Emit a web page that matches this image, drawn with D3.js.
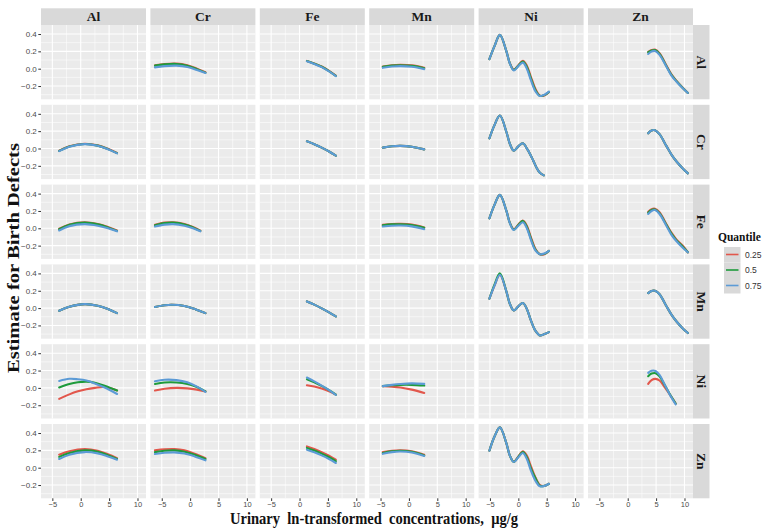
<!DOCTYPE html>
<html><head><meta charset="utf-8">
<script src="https://cdn.jsdelivr.net/npm/d3@7"></script>
<style>body{margin:0;background:#fff}</style>
</head><body><svg id="c" width="767" height="532"></svg>
<script>
const metals = ["Al","Cr","Fe","Mn","Ni","Zn"];
const quantiles = ["0.25","0.5","0.75"];
const qColors = ["#E2574C","#1E9B3B","#5C9BD6"];
const xTicks = [-5,0,5,10];
const yTicks = [-0.2,0,0.2,0.4];
const xLabel = "Urinary  ln-transformed  concentrations,  μg/g";
const yLabel = "Estimate for Birth Defects";

// x grids (urinary ln concentration of the column metal)
const xAl = [-3.8,-2,0.7,3,4.8,6.4];
const xCr = [-6.2,-4.5,-2.4,-0.5,1.2,2.7];
const xCrShort = [-6.2,-4.5,-3,-1,0.5,1.8];
const xFe = [1.3,2.6,3.9,5.2,6.4];
const xMn = [-4.6,-3,-1.5,0.5,2.7];
const xNi = [-5.1,-4.2,-3.25,-2.1,-1.5,-0.8,0,0.8,1.5,2.2,3.0,3.8,4.6,5.4];
const xNiShort = [-5.1,-4.2,-3.25,-2.1,-1.5,-0.8,0,0.8,1.6,2.6,3.2,3.8,4.5];
const xZn = [3.6,4.2,4.8,5.6,6.8,7.7,8.6,9.7,10.6];
const xZnShort = [3.6,4.2,4.9,5.6,6.5,7.4,8.45];

// estimates per row metal: column -> [x, q0.25, q0.5, q0.75]
const rowAl = {
  Cr: [xCr, [0.04,0.055,0.06,0.04,0.0,-0.04], [0.035,0.05,0.055,0.035,-0.005,-0.045], [0.015,0.03,0.035,0.02,-0.015,-0.05]],
  Fe: [xFe, [0.09,0.06,0.025,-0.025,-0.08], [0.088,0.058,0.022,-0.028,-0.082], [0.085,0.055,0.018,-0.032,-0.085]],
  Mn: [xMn, [0.025,0.04,0.045,0.038,0.01], [0.022,0.036,0.04,0.033,0.005], [0.01,0.025,0.03,0.022,-0.005]],
  Ni: [xNi, [0.11,0.26,0.39,0.2,0.065,-0.01,0.04,0.09,0.035,-0.09,-0.23,-0.31,-0.31,-0.27],
            [0.11,0.26,0.39,0.2,0.062,-0.015,0.035,0.082,0.02,-0.11,-0.245,-0.312,-0.305,-0.268],
            [0.11,0.26,0.39,0.2,0.06,-0.02,0.03,0.07,0.0,-0.13,-0.26,-0.315,-0.3,-0.265]],
  Zn: [xZn, [0.195,0.215,0.22,0.18,0.04,-0.065,-0.14,-0.22,-0.28], [0.19,0.21,0.215,0.17,0.032,-0.072,-0.145,-0.222,-0.28], [0.17,0.198,0.205,0.16,0.025,-0.08,-0.15,-0.225,-0.28]]
};
const rowCr = {
  Al: [xAl, [-0.025,0.026,0.055,0.036,-0.004,-0.052], [-0.028,0.023,0.052,0.033,-0.007,-0.054], [-0.03,0.021,0.05,0.031,-0.009,-0.056]],
  Fe: [xFe, [0.083,0.05,0.01,-0.035,-0.083], [0.083,0.05,0.01,-0.035,-0.083], [0.083,0.05,0.01,-0.035,-0.083]],
  Mn: [xMn, [0.01,0.025,0.03,0.02,-0.01], [0.01,0.025,0.03,0.02,-0.01], [0.01,0.025,0.03,0.02,-0.01]],
  Ni: [xNiShort, [0.117,0.27,0.38,0.19,0.055,-0.025,0.025,0.06,-0.01,-0.135,-0.22,-0.28,-0.31],
                 [0.117,0.27,0.38,0.19,0.055,-0.025,0.025,0.06,-0.01,-0.135,-0.22,-0.28,-0.31],
                 [0.117,0.27,0.38,0.19,0.055,-0.025,0.025,0.06,-0.01,-0.135,-0.22,-0.28,-0.31]],
  Zn: [xZn, [0.175,0.208,0.21,0.165,0.03,-0.07,-0.15,-0.23,-0.287], [0.175,0.208,0.21,0.165,0.03,-0.07,-0.15,-0.23,-0.287], [0.175,0.208,0.21,0.165,0.03,-0.07,-0.15,-0.23,-0.287]]
};
const rowFe = {
  Al: [xAl, [-0.005,0.045,0.07,0.05,0.015,-0.025], [-0.01,0.04,0.065,0.045,0.01,-0.03], [-0.025,0.025,0.048,0.03,0.0,-0.035]],
  Cr: [xCrShort, [0.04,0.065,0.07,0.05,0.015,-0.027], [0.035,0.06,0.065,0.045,0.01,-0.03], [0.02,0.042,0.048,0.03,0.0,-0.035]],
  Mn: [xMn, [0.04,0.05,0.052,0.042,0.01], [0.035,0.045,0.047,0.037,0.005], [0.02,0.03,0.032,0.022,-0.01]],
  Ni: [xNi, [0.115,0.27,0.385,0.2,0.065,-0.01,0.045,0.09,0.03,-0.1,-0.235,-0.3,-0.3,-0.26],
            [0.115,0.27,0.385,0.2,0.062,-0.015,0.038,0.085,0.015,-0.115,-0.245,-0.3,-0.295,-0.26],
            [0.115,0.27,0.385,0.2,0.06,-0.02,0.03,0.07,0.0,-0.13,-0.255,-0.3,-0.29,-0.26]],
  Zn: [xZn, [0.19,0.22,0.225,0.185,0.05,-0.05,-0.13,-0.2,-0.277], [0.18,0.212,0.218,0.175,0.04,-0.062,-0.14,-0.212,-0.277], [0.165,0.2,0.21,0.165,0.03,-0.075,-0.15,-0.225,-0.277]]
};
const rowMn = {
  Al: [xAl, [-0.031,0.015,0.046,0.028,-0.01,-0.058], [-0.031,0.015,0.046,0.028,-0.01,-0.058], [-0.031,0.015,0.046,0.028,-0.01,-0.058]],
  Cr: [[-6.2,-4.5,-3.3,-1,1,2.7], [0.012,0.032,0.038,0.025,-0.015,-0.058], [0.012,0.032,0.038,0.025,-0.015,-0.058], [0.012,0.032,0.038,0.025,-0.015,-0.058]],
  Fe: [xFe, [0.077,0.04,-0.003,-0.05,-0.096], [0.077,0.04,-0.003,-0.05,-0.096], [0.077,0.04,-0.003,-0.05,-0.096]],
  Ni: [xNi, [0.108,0.26,0.385,0.19,0.05,-0.027,0.02,0.058,-0.01,-0.14,-0.26,-0.315,-0.3,-0.277],
            [0.108,0.27,0.4,0.19,0.05,-0.027,0.02,0.058,-0.01,-0.14,-0.26,-0.315,-0.3,-0.277],
            [0.108,0.26,0.385,0.19,0.05,-0.027,0.02,0.058,-0.01,-0.14,-0.26,-0.315,-0.3,-0.277]],
  Zn: [xZn, [0.173,0.198,0.2,0.16,0.025,-0.075,-0.155,-0.235,-0.288], [0.173,0.198,0.2,0.16,0.025,-0.075,-0.155,-0.235,-0.288], [0.173,0.198,0.2,0.16,0.025,-0.075,-0.155,-0.235,-0.288]]
};
const rowNi = {
  Al: [[-3.8,-2,-0.5,1,2.5,4.2,6.4], [-0.127,-0.075,-0.04,-0.015,0.0,0.01,-0.03], [0.005,0.045,0.065,0.072,0.06,0.025,-0.03], [0.08,0.105,0.1,0.085,0.05,0.005,-0.07]],
  Cr: [xCr, [-0.03,-0.01,0.0,-0.005,-0.02,-0.04], [0.046,0.062,0.062,0.045,0.01,-0.04], [0.077,0.094,0.09,0.065,0.015,-0.046]],
  Fe: [xFe, [0.03,0.015,-0.008,-0.04,-0.077], [0.1,0.065,0.022,-0.025,-0.077], [0.12,0.075,0.027,-0.025,-0.08]],
  Mn: [xMn, [0.02,0.015,0.005,-0.02,-0.058], [0.02,0.03,0.035,0.035,0.027], [0.02,0.035,0.045,0.052,0.046]],
  Zn: [xZnShort, [0.046,0.09,0.104,0.085,0.01,-0.075,-0.18], [0.135,0.165,0.17,0.135,0.035,-0.07,-0.18], [0.173,0.198,0.195,0.15,0.04,-0.075,-0.19]]
};
const rowZn = {
  Al: [xAl, [0.15,0.19,0.215,0.195,0.155,0.11], [0.125,0.17,0.2,0.185,0.145,0.1], [0.1,0.15,0.18,0.165,0.13,0.092]],
  Cr: [[-6.2,-4.5,-2.8,-1,0.8,2.7], [0.2,0.212,0.215,0.2,0.16,0.11], [0.18,0.195,0.2,0.185,0.148,0.1], [0.158,0.172,0.177,0.163,0.13,0.085]],
  Fe: [xFe, [0.246,0.215,0.18,0.138,0.092], [0.228,0.198,0.162,0.12,0.075], [0.208,0.178,0.142,0.1,0.054]],
  Mn: [xMn, [0.18,0.195,0.2,0.19,0.15], [0.17,0.188,0.195,0.183,0.142], [0.16,0.18,0.186,0.175,0.135]],
  Ni: [xNi, [0.196,0.36,0.465,0.28,0.14,0.07,0.13,0.19,0.14,0.02,-0.11,-0.2,-0.21,-0.185],
            [0.196,0.36,0.465,0.28,0.14,0.067,0.125,0.18,0.12,-0.005,-0.12,-0.208,-0.21,-0.185],
            [0.196,0.36,0.465,0.28,0.14,0.065,0.12,0.17,0.1,-0.03,-0.15,-0.215,-0.21,-0.185]]
};
const rows = [rowAl,rowCr,rowFe,rowMn,rowNi,rowZn];

const svg = d3.select("#c");
svg.append("rect").attr("width",767).attr("height",532).attr("fill","#fff");

const pLeft = 41, pTop = 25, pw = 105, ph = 74.3, gx = 4.4, gy = 5.5;
const stripH = 16.7, stripW = 16.5;
const x = d3.scaleLinear().domain([-7, 11.5]).range([0, pw]);
const y = d3.scaleLinear().domain([-0.353, 0.504]).range([ph, 0]);
const xMinor = [-2.5, 2.5, 7.5];
const yMinor = [-0.3, -0.1, 0.1, 0.3];
const line = d3.line().x(d=>x(d[0])).y(d=>y(d[1])).curve(d3.curveCatmullRom.alpha(0.5));
const fmt = d3.format(".1f");

metals.forEach((rm, ri) => {
  metals.forEach((cm, ci) => {
    const g = svg.append("g").attr("transform",`translate(${pLeft + ci*(pw+gx)},${pTop + ri*(ph+gy)})`);
    g.append("rect").attr("width",pw).attr("height",ph).attr("fill","#EBEBEB");
    g.selectAll(".vmin").data(xMinor).join("line").attr("x1",d=>x(d)).attr("x2",d=>x(d)).attr("y1",0).attr("y2",ph).attr("stroke","#fff").attr("stroke-width",0.55);
    g.selectAll(".hmin").data(yMinor).join("line").attr("y1",d=>y(d)).attr("y2",d=>y(d)).attr("x1",0).attr("x2",pw).attr("stroke","#fff").attr("stroke-width",0.55);
    g.selectAll(".vmaj").data(xTicks).join("line").attr("x1",d=>x(d)).attr("x2",d=>x(d)).attr("y1",0).attr("y2",ph).attr("stroke","#fff").attr("stroke-width",1.1);
    g.selectAll(".hmaj").data(yTicks).join("line").attr("y1",d=>y(d)).attr("y2",d=>y(d)).attr("x1",0).attr("x2",pw).attr("stroke","#fff").attr("stroke-width",1.1);
    const p = rows[ri][cm];
    if (p) {
      const xs = p[0];
      [0,1,2].forEach(qi => {
        const pts = xs.map((xv,k)=>[xv, p[qi+1][k]]);
        g.append("path").attr("d", line(pts)).attr("fill","none")
          .attr("stroke", qColors[qi]).attr("stroke-width", 2.1).attr("stroke-linecap","round");
      });
    }
    if (ci === 0) {
      const ax = g.append("g").call(d3.axisLeft(y).tickValues(yTicks).tickSize(2.7).tickPadding(1.5).tickFormat(d=>fmt(d)));
      ax.select(".domain").remove();
      ax.selectAll("line").attr("stroke","#333");
      ax.selectAll("text").attr("fill","#4D4D4D").style("font-family","'Liberation Sans',Arial,sans-serif").style("font-size","8px");
    }
    if (ri === metals.length-1) {
      const ax = g.append("g").attr("transform",`translate(0,${ph})`).call(d3.axisBottom(x).tickValues(xTicks).tickSize(2.7).tickPadding(0.8).tickFormat(d=>d3.format("d")(d)));
      ax.select(".domain").remove();
      ax.selectAll("line").attr("stroke","#333");
      ax.selectAll("text").attr("fill","#4D4D4D").style("font-family","'Liberation Sans',Arial,sans-serif").style("font-size","7.5px");
    }
    if (ri === 0) {
      g.append("rect").attr("y",-stripH).attr("width",pw).attr("height",stripH).attr("fill","#D9D9D9");
      g.append("text").attr("x",pw/2).attr("y",-stripH/2).attr("dy","0.35em").attr("text-anchor","middle")
        .style("font-family","'Liberation Serif','Times New Roman',serif").style("font-weight","bold").style("font-size","13.5px")
        .attr("fill","#1A1A1A").text(cm);
    }
    if (ci === metals.length-1) {
      g.append("rect").attr("x",pw).attr("width",stripW).attr("height",ph).attr("fill","#D9D9D9");
      g.append("text").attr("transform",`translate(${pw+stripW/2},${ph/2}) rotate(90)`).attr("dy","0.35em").attr("text-anchor","middle")
        .style("font-family","'Liberation Serif','Times New Roman',serif").style("font-weight","bold").style("font-size","13.5px")
        .attr("fill","#1A1A1A").text(rm);
    }
  });
});

// axis titles
svg.append("text").attr("transform","translate(13,258) rotate(-90)").attr("text-anchor","middle").attr("dy","0.35em")
  .attr("textLength",230).attr("lengthAdjust","spacingAndGlyphs")
  .style("font-family","'Liberation Serif','Times New Roman',serif").style("font-weight","bold").style("font-size","17px")
  .attr("fill","#111").text(yLabel);
svg.append("text").attr("x",374).attr("y",524).attr("text-anchor","middle")
  .attr("textLength",288).attr("lengthAdjust","spacingAndGlyphs")
  .style("font-family","'Liberation Serif','Times New Roman',serif").style("font-weight","bold").style("font-size","16.5px")
  .style("white-space","pre").attr("fill","#111").text(xLabel);

// legend
const lg = svg.append("g").attr("transform","translate(718,247)");
lg.append("text").attr("x",0).attr("y",-6).style("font-family","'Liberation Serif','Times New Roman',serif").style("font-weight","bold").style("font-size","11.5px").attr("fill","#111").text("Quantile");
quantiles.forEach((q,i)=>{
  lg.append("rect").attr("x",6).attr("y",i*15.5).attr("width",16.5).attr("height",15.5).attr("fill","#D9D9D9");
  lg.append("line").attr("x1",8).attr("x2",20.5).attr("y1",i*15.5+7.5).attr("y2",i*15.5+7.5).attr("stroke",qColors[i]).attr("stroke-width",1.6);
  lg.append("text").attr("x",27).attr("y",i*15.5+7.75).attr("dy","0.35em").style("font-family","'Liberation Sans',Arial,sans-serif").style("font-size","8.5px").attr("fill","#333").text(q);
});
</script></body></html>
